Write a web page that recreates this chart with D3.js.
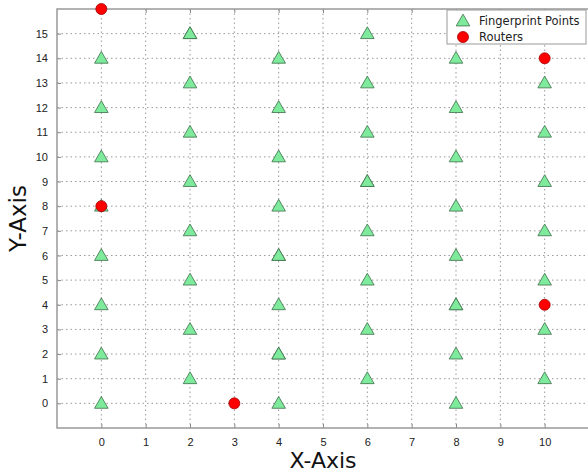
<!DOCTYPE html>
<html>
<head>
<meta charset="utf-8">
<script src="https://cdn.jsdelivr.net/npm/d3@7"></script>
<style>
  html, body { margin: 0; padding: 0; background: #fff; }
  svg { display: block; font-family: "DejaVu Sans", sans-serif; }
</style>
</head>
<body>
<svg id="chart" width="588" height="474"></svg>
<script>
const fingerX = [0, 0, 0, 0, 0, 0, 0, 0,
  2, 2, 2, 2, 2, 2, 2, 2,
  4, 4, 4, 4, 4, 4, 4, 4,
  6, 6, 6, 6, 6, 6, 6, 6,
  8, 8, 8, 8, 8, 8, 8, 8,
  10, 10, 10, 10, 10, 10, 10, 10,
  2, 4, 4, 6, 8];
const fingerY = [0, 2, 4, 6, 8, 10, 12, 14,
  1, 3, 5, 7, 9, 11, 13, 15,
  0, 2, 4, 6, 8, 10, 12, 14,
  1, 3, 5, 7, 9, 11, 13, 15,
  0, 2, 4, 6, 8, 10, 12, 14,
  1, 3, 5, 7, 9, 11, 13, 15,
  15, 6, 2, 9, 4];
const routerX = [0, 0, 3, 10, 10];
const routerY = [16, 8, 0, 14, 4];
const xTicks = [0, 1, 2, 3, 4, 5, 6, 7, 8, 9, 10];
const yTicks = [0, 1, 2, 3, 4, 5, 6, 7, 8, 9, 10, 11, 12, 13, 14, 15];
const legendLabels = ["Fingerprint Points", "Routers"];

const fingerprints = fingerX.map((x, i) => ({ x, y: fingerY[i] }));
const routers = routerX.map((x, i) => ({ x, y: routerY[i] }));

const svg = d3.select("#chart");
const margin = { top: 9, right: -1, bottom: 46, left: 57 };
const width = 588 - margin.left - margin.right;
const height = 474 - margin.top - margin.bottom;

const x = d3.scaleLinear().domain([-1, 11]).range([0, width]);
const y = d3.scaleLinear().domain([-1, 16]).range([height, 0]);

const g = svg.append("g").attr("transform", `translate(${margin.left},${margin.top})`);

// grid
g.append("g")
  .selectAll("line")
  .data(xTicks)
  .join("line")
  .attr("x1", (d) => x(d)).attr("x2", (d) => x(d))
  .attr("y1", 0).attr("y2", height)
  .attr("stroke", "#999")
  .attr("stroke-width", 1)
  .attr("stroke-dasharray", "1.5,3");
g.append("g")
  .selectAll("line")
  .data(yTicks)
  .join("line")
  .attr("x1", 0).attr("x2", width)
  .attr("y1", (d) => y(d)).attr("y2", (d) => y(d))
  .attr("stroke", "#999")
  .attr("stroke-width", 1)
  .attr("stroke-dasharray", "1.5,3");

// axes (ticks pointing inward)
const styleAxis = (sel) => {
  sel.select(".domain").remove();
  sel.selectAll(".tick line").attr("stroke", "#888");
  sel.selectAll(".tick text").attr("fill", "#222").style("font-size", "11px");
};
g.append("g")
  .attr("transform", `translate(0,${height})`)
  .call(d3.axisBottom(x).tickValues(xTicks).tickSizeInner(-4).tickSizeOuter(0).tickPadding(10))
  .call(styleAxis);
g.append("g")
  .call(d3.axisTop(x).tickValues(xTicks).tickSizeInner(-4).tickSizeOuter(0).tickFormat(""))
  .call(styleAxis);
g.append("g")
  .call(d3.axisLeft(y).tickValues(yTicks).tickSizeInner(-4).tickSizeOuter(0).tickPadding(9))
  .call(styleAxis);

// frame
g.append("rect")
  .attr("width", width).attr("height", height)
  .attr("fill", "none")
  .attr("stroke", "#999")
  .attr("stroke-width", 1.5);

const tri = d3.symbol().type(d3.symbolTriangle).size(80);

g.append("g")
  .selectAll("path")
  .data(fingerprints)
  .join("path")
  .attr("d", tri)
  .attr("transform", (d) => `translate(${x(d.x)},${y(d.y) + 1})`)
  .attr("fill", "#7dea9c")
  .attr("stroke", "#3f6d4a")
  .attr("stroke-width", 0.8);

g.append("g")
  .selectAll("circle")
  .data(routers)
  .join("circle")
  .attr("cx", (d) => x(d.x))
  .attr("cy", (d) => y(d.y))
  .attr("r", 5.5)
  .attr("fill", "#ff0000")
  .attr("stroke", "#a00000")
  .attr("stroke-width", 0.8);

// legend
const legend = svg.append("g").attr("transform", "translate(447,10)");
legend.append("rect")
  .attr("width", 139).attr("height", 34)
  .attr("fill", "#fff")
  .attr("stroke", "#999")
  .attr("stroke-width", 1);
legend.append("path")
  .attr("d", tri)
  .attr("transform", "translate(16,12)")
  .attr("fill", "#7dea9c")
  .attr("stroke", "#3f6d4a")
  .attr("stroke-width", 0.8);
legend.append("circle")
  .attr("cx", 16).attr("cy", 27).attr("r", 5.5)
  .attr("fill", "#ff0000")
  .attr("stroke", "#a00000")
  .attr("stroke-width", 0.8);
legend.selectAll("text")
  .data(legendLabels)
  .join("text")
  .attr("x", 32)
  .attr("y", (d, i) => 11 + i * 16)
  .attr("dy", "0.35em")
  .attr("fill", "#222")
  .style("font-size", "11.5px")
  .text((d) => d);

// axis titles
svg.append("text")
  .attr("x", margin.left + x(5))
  .attr("y", 468)
  .attr("text-anchor", "middle")
  .attr("fill", "#111")
  .style("font-size", "22px")
  .text("X-Axis");
svg.append("text")
  .attr("transform", `translate(26,${margin.top + y(7.5)}) rotate(-90)`)
  .attr("text-anchor", "middle")
  .attr("fill", "#111")
  .style("font-size", "23px")
  .text("Y-Axis");
</script>
</body>
</html>
